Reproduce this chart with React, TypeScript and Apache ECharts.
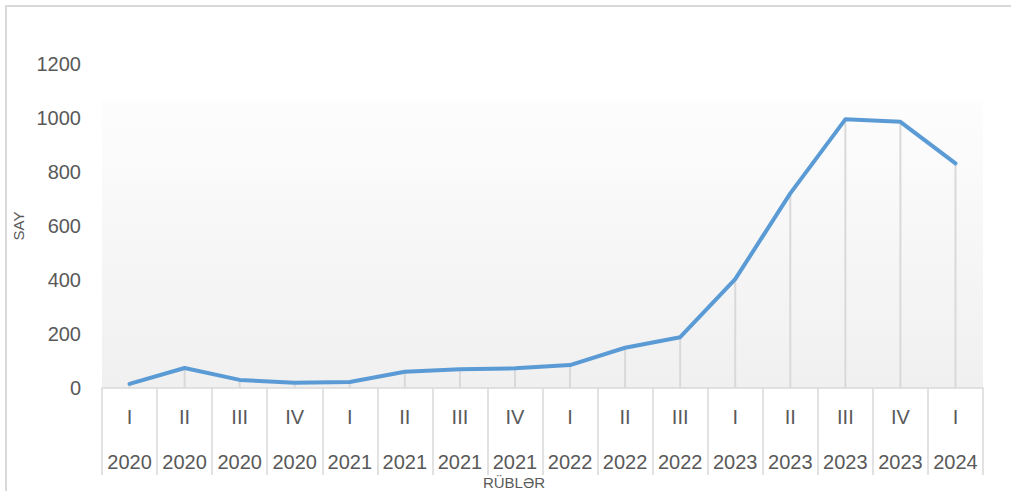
import React, { useEffect, useRef } from "react";
import * as echarts from "echarts";

const quarters = ["I", "II", "III", "IV", "I", "II", "III", "IV", "I", "II", "III", "I", "II", "III", "IV", "I"];
const years = ["2020", "2020", "2020", "2020", "2021", "2021", "2021", "2021", "2022", "2022", "2022", "2023", "2023", "2023", "2023", "2024"];
const values = [15, 74, 30, 19, 22, 60, 69, 73, 85, 149, 188, 403, 721, 995, 986, 832];
const yTicks = [0, 200, 400, 600, 800, 1000, 1200];

const FONT = "Liberation Sans";
const GRAY = "#595959";

export default function App() {
  const ref = useRef<HTMLDivElement>(null);
  useEffect(() => {
    if (!ref.current) return;
    const chart = echarts.init(ref.current, null, { renderer: "svg" });
    const cats = quarters.map((q, i) => `${q}\n${years[i]}`);
    chart.setOption({
      animation: false,
      backgroundColor: "#ffffff",
      textStyle: { fontFamily: FONT },
      grid: {
        left: 102,
        right: 28,
        top: 64,
        bottom: 103,
        show: true,
        borderWidth: 0,
        backgroundColor: new echarts.graphic.LinearGradient(0, 0, 0, 1, [
          { offset: 0, color: "#ffffff" },
          { offset: 0.11, color: "#ffffff" },
          { offset: 0.112, color: "#fdfdfd" },
          { offset: 1, color: "#f0f0f0" },
        ]),
      },
      xAxis: {
        type: "category",
        data: cats,
        boundaryGap: true,
        axisLine: { show: true, lineStyle: { color: "#d9d9d9", width: 1.5 } },
        axisTick: { show: true, length: 87, interval: 0, lineStyle: { color: "#d9d9d9", width: 1.5 } },
        axisLabel: {
          interval: 0,
          margin: 6,
          color: GRAY,
          fontSize: 20,
          fontFamily: FONT,
          lineHeight: 45,
        },
        splitLine: { show: false },
      },
      yAxis: {
        type: "value",
        min: yTicks[0],
        max: yTicks[yTicks.length - 1],
        interval: 200,
        axisLine: { show: false },
        axisTick: { show: false },
        splitLine: { show: false },
        axisLabel: {
          color: GRAY,
          fontSize: 20,
          fontFamily: FONT,
          margin: 21,
          formatter: (v: number) => String(v),
        },
        name: "SAY",
        nameLocation: "middle",
        nameGap: 66,
        nameRotate: 90,
        nameTextStyle: { color: GRAY, fontSize: 15, fontFamily: FONT },
      },
      series: [
        {
          type: "bar",
          data: values,
          barWidth: 2,
          itemStyle: { color: "#d9d9d9" },
          z: 1,
          silent: true,
        },
        {
          type: "line",
          data: values,
          showSymbol: false,
          symbol: "none",
          lineStyle: { color: "#5B9BD5", width: 4, cap: "round", join: "round" },
          z: 3,
        },
      ],
      graphic: [
        {
          type: "rect",
          shape: { x: 6, y: 6, width: 1030, height: 520 },
          style: { fill: "none", stroke: "#d9d9d9", lineWidth: 2 },
          z: 10,
          silent: true,
        },
        {
          type: "text",
          x: 514,
          y: 482,
          style: {
            text: "RÜBLƏR",
            fill: GRAY,
            fontSize: 15,
            fontFamily: FONT,
            align: "center",
            verticalAlign: "middle",
          },
        },
      ],
    });
    return () => chart.dispose();
  }, []);
  return <div ref={ref} style={{ width: 1011, height: 491, position: "absolute", left: 0, top: 0 }} />;
}
